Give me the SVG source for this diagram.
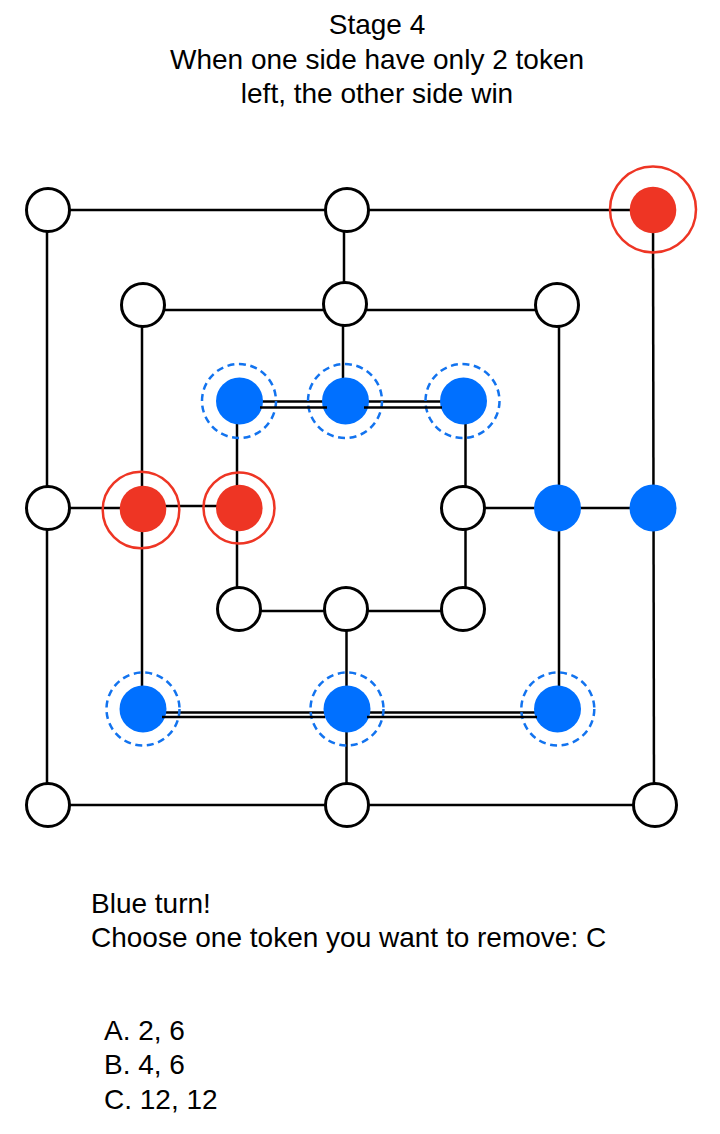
<svg xmlns="http://www.w3.org/2000/svg" width="720" height="1134" viewBox="0 0 720 1134">
<style>
text{font-family:"Liberation Sans",Arial,sans-serif;font-size:28px;fill:#000}
.c line{stroke:#000;stroke-width:2.5}
.w{fill:#fff;stroke:#000;stroke-width:3}
.b{fill:#0070FF}
.r{fill:#EE3524}
.rr{fill:none;stroke:#EE3524;stroke-width:2.5}
.br{fill:none;stroke:#1273EF;stroke-width:2.5;stroke-dasharray:7 4.6}
</style>
<rect width="720" height="1134" fill="#fff"/>
<g id="title" text-anchor="middle">
<text x="377" y="34">Stage 4</text>
<text x="377" y="69">When one side have only 2 token</text>
<text x="377" y="103">left, the other side win</text>
</g>
<g id="connectors" class="c">
<line x1="48" y1="210" x2="653" y2="210"/>
<line x1="47" y1="210" x2="47" y2="805"/>
<line x1="344" y1="210" x2="344" y2="304"/>
<line x1="653" y1="210" x2="654" y2="805"/>
<line x1="48" y1="805" x2="655" y2="805"/>
<line x1="346.5" y1="709" x2="346.5" y2="805"/>
<line x1="48" y1="508" x2="143" y2="508"/>
<line x1="557" y1="508" x2="653" y2="508"/>
<line x1="143" y1="310" x2="557" y2="310"/>
<line x1="142" y1="305" x2="142" y2="692"/>
<line x1="559" y1="305" x2="559" y2="688"/>
<line x1="343" y1="304" x2="343" y2="401"/>
<line x1="143" y1="506" x2="239" y2="506"/>
<line x1="463" y1="508" x2="557" y2="508"/>
<line x1="143" y1="712.5" x2="557" y2="712.5"/>
<line x1="239" y1="401.5" x2="463" y2="401.5"/>
<line x1="237" y1="401" x2="237" y2="609"/>
<line x1="465.5" y1="401" x2="465.5" y2="609"/>
<line x1="239" y1="611" x2="463" y2="611"/>
<line x1="346.5" y1="609" x2="346.5" y2="709"/>
</g>
<g id="O1"><circle class="w" cx="48" cy="210" r="21.5"/></g>
<g id="O2"><circle class="w" cx="347" cy="210" r="21.5"/></g>
<g id="O3"><circle class="r" cx="653" cy="210" r="23.3"/><circle class="rr" cx="653" cy="209.5" r="43"/></g>
<g id="O4"><circle class="w" cx="48" cy="508" r="21.5"/></g>
<g id="O5"><circle class="b" cx="653" cy="508" r="23.5"/></g>
<g id="O6"><circle class="w" cx="48" cy="805" r="21.5"/></g>
<g id="O7"><circle class="w" cx="347" cy="805" r="21.5"/></g>
<g id="O8"><circle class="w" cx="655" cy="805" r="21.5"/></g>
<g id="M1"><circle class="w" cx="143" cy="305" r="21.5"/></g>
<g id="M2"><circle class="w" cx="345" cy="304" r="21.5"/></g>
<g id="M3"><circle class="w" cx="557" cy="305" r="21.5"/></g>
<g id="M4"><circle class="r" cx="143" cy="509" r="23.3"/><circle class="rr" cx="141" cy="510" r="38.3"/></g>
<g id="M5"><circle class="b" cx="557.5" cy="508" r="23.5"/></g>
<g id="M6"><circle class="b" cx="143" cy="709" r="23.5"/><circle class="br" cx="143" cy="709" r="36.5"/></g>
<g id="M7"><circle class="b" cx="347" cy="709" r="23.5"/><circle class="br" cx="347" cy="709" r="36.5"/></g>
<g id="M8"><circle class="b" cx="557.5" cy="709" r="23.5"/><circle class="br" cx="557.8" cy="709" r="36.5"/></g>
<g id="I1"><circle class="b" cx="239.5" cy="401" r="23.5"/><circle class="br" cx="239" cy="401" r="37"/></g>
<g id="I2"><circle class="b" cx="345.5" cy="401" r="23.5"/><circle class="br" cx="345" cy="401" r="37"/></g>
<g id="I3"><circle class="b" cx="463.5" cy="401" r="23.5"/><circle class="br" cx="462.5" cy="401" r="37"/></g>
<g id="I4"><circle class="r" cx="239.3" cy="508" r="23.3"/><circle class="rr" cx="239" cy="508" r="35.5"/></g>
<g id="I5"><circle class="w" cx="463" cy="508" r="21.5"/></g>
<g id="I6"><circle class="w" cx="239" cy="609" r="21.5"/></g>
<g id="I7"><circle class="w" cx="346" cy="609" r="21.5"/></g>
<g id="I8"><circle class="w" cx="463" cy="609" r="21.5"/></g>
<g id="connectors-double" class="c">
<line x1="260" y1="407.5" x2="327" y2="407.5"/>
<line x1="364" y1="407.5" x2="442" y2="407.5"/>
<line x1="162" y1="717" x2="325" y2="717"/>
<line x1="367" y1="717" x2="537" y2="717"/>
</g>
<g id="question">
<text x="91" y="913">Blue turn!</text>
<text x="91" y="947">Choose one token you want to remove: C</text>
<text x="104" y="1040">A. 2, 6</text>
<text x="104" y="1074">B. 4, 6</text>
<text x="104" y="1109">C. 12, 12</text>
</g>
</svg>
